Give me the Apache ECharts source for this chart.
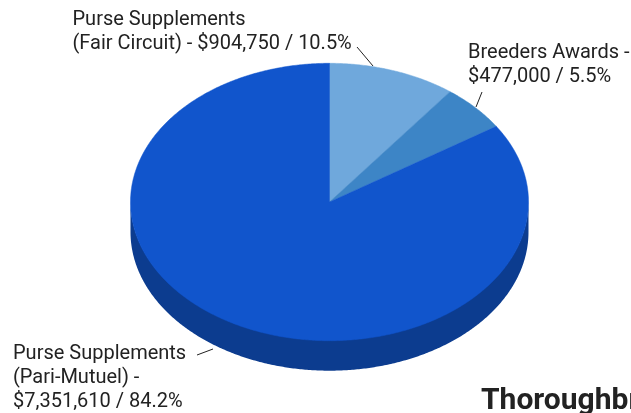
<!DOCTYPE html>
<html>
<head>
<meta charset="utf-8">
<script src="https://cdn.jsdelivr.net/npm/echarts@6/dist/echarts.min.js"></script>
<style>
html,body{margin:0;padding:0;background:#fff;}
#chart{width:631px;height:413px;}
</style>
</head>
<body>
<div id="chart"></div>
<script>
// ---- data ----
const categories = ['Purse Supplements (Fair Circuit)', 'Breeders Awards', 'Purse Supplements (Pari-Mutuel)'];
const amounts = [904750, 477000, 7351610];
const percentLabels = ['10.5%', '5.5%', '84.2%'];
const labelNames = ['Purse Supplements\n(Fair Circuit) - ', 'Breeders Awards -\n', 'Purse Supplements\n(Pari-Mutuel) -\n'];
const titleText = 'Thoroughbred Incentive Program';

// ---- style / layout ----
const topColors = ['#6fa8dc', '#3d85c6', '#1155cc'];
const sideColors = ['#4d76a0', '#2b5d8b', '#0c3c8f'];
const geo = { cx: 329.5, cy: 202, rx: 199, ry: 138.7, depth: 30 };

const total = amounts.reduce((a, b) => a + b, 0);
const starts = [];
let acc = 0;
amounts.forEach(v => { starts.push(acc / total * Math.PI * 2); acc += v; });

function pt(a, dy) {
  return [geo.cx + geo.rx * Math.sin(a), geo.cy - geo.ry * Math.cos(a) + (dy || 0)];
}
function arc(a0, a1, dy) {
  const pts = [];
  const n = Math.max(2, Math.ceil(Math.abs(a1 - a0) / (Math.PI / 360)));
  for (let k = 0; k <= n; k++) pts.push(pt(a0 + (a1 - a0) * k / n, dy));
  return pts;
}

function renderItem(params, api) {
  const i = params.dataIndex;
  const v = api.value(0);
  const a0 = starts[i];
  const a1 = a0 + v / total * Math.PI * 2;
  const children = [];
  // side wall (front half only)
  const s = Math.max(a0, Math.PI / 2), e = Math.min(a1, Math.PI * 1.5);
  if (e > s) {
    const topArc = arc(s, e, -1);
    const botArc = arc(e, s, geo.depth);
    children.push({
      type: 'polygon',
      shape: { points: topArc.concat(botArc) },
      style: { fill: sideColors[i] }
    });
  }
  // top face
  children.push({
    type: 'polygon',
    shape: { points: [[geo.cx, geo.cy]].concat(arc(a0, a1, 0)) },
    style: { fill: topColors[i], stroke: topColors[i], lineWidth: 0.5 }
  });
  return { type: 'group', children };
}

const labelPos = [
  { x: 72.5, y: 8, line: [[357, 47], [373, 66]] },
  { x: 468, y: 41, line: [[482, 92], [476, 107]] },
  { x: 13, y: 342, line: [[197, 355], [213, 349]] }
];

const graphics = [];
amounts.forEach((v, i) => {
  const txt = labelNames[i] + '$' + v.toLocaleString('en-US') + ' / ' + percentLabels[i];
  graphics.push({
    type: 'text', x: labelPos[i].x, y: labelPos[i].y, z: 10,
    style: { text: txt, font: '20px Roboto', fill: '#222', lineHeight: 24, verticalAlign: 'top', align: 'left' }
  });
  graphics.push({
    type: 'line', z: 10,
    shape: { x1: labelPos[i].line[0][0], y1: labelPos[i].line[0][1], x2: labelPos[i].line[1][0], y2: labelPos[i].line[1][1] },
    style: { stroke: '#222', lineWidth: 1 }
  });
});

const chart = echarts.init(document.getElementById('chart'), null, { renderer: 'canvas' });
chart.setOption({
  animation: false,
  backgroundColor: '#fff',
  title: {
    text: titleText,
    left: 481,
    top: 386,
    padding: 0,
    textStyle: { fontFamily: 'Roboto', fontWeight: 'bold', fontSize: 30, color: '#222', overflow: 'none', width: 400 }
  },
  series: [{
    type: 'custom',
    coordinateSystem: 'none',
    renderItem: renderItem,
    data: amounts.map((v, i) => ({ name: categories[i], value: [v] }))
  }],
  graphic: graphics
});
</script>
</body>
</html>
